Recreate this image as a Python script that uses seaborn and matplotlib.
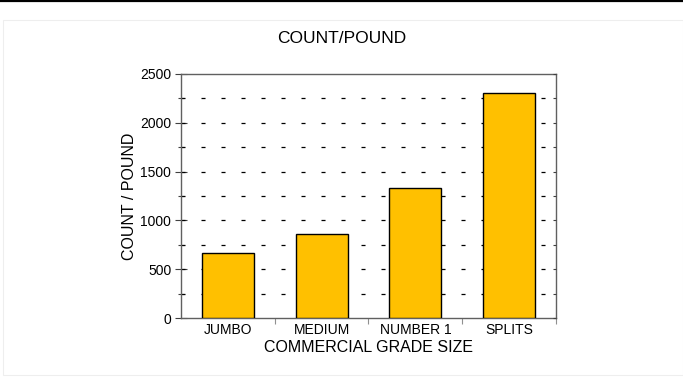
import numpy as np
import pandas as pd
import seaborn as sns
import matplotlib.pyplot as plt
from matplotlib.lines import Line2D
from matplotlib.patches import Rectangle
from matplotlib.ticker import MultipleLocator

# data
grades = ["JUMBO", "MEDIUM", "NUMBER 1", "SPLITS"]
count_per_pound = [665, 858, 1330, 2305]

df = pd.DataFrame({"Grade": grades, "Count": count_per_pound})

sns.set_style("ticks")
plt.rcParams['font.family'] = ['Liberation Sans', 'DejaVu Sans']
plt.rcParams['lines.scale_dashes'] = False
plt.rcParams['text.color'] = 'black'
plt.rcParams['axes.labelcolor'] = 'black'
plt.rcParams['xtick.labelcolor'] = 'black'
plt.rcParams['ytick.labelcolor'] = 'black'

fig = plt.figure(figsize=(6.83, 3.88), dpi=100)
ax = fig.add_axes([0.265, 0.1804, 0.549, 0.629])

sns.barplot(data=df, x="Grade", y="Count", color="#FFC000", width=0.555,
            edgecolor="black", linewidth=1.0, saturation=1, ax=ax, zorder=3)

ax.set_ylim(0, 2500)
ax.set_xlim(-0.5, 3.5)
ax.yaxis.set_major_locator(MultipleLocator(500))
ax.yaxis.set_minor_locator(MultipleLocator(250))

# dashed horizontal grid at every 250
for yv in np.arange(250, 2500, 250):
    ax.axhline(yv, color="black", linewidth=0.9, linestyle=(0, (2.9, 11.5)), zorder=1)

for s in ax.spines.values():
    s.set_color("#606060")
    s.set_linewidth(1.0)
    s.set_visible(True)

ax.tick_params(axis="y", which="major", direction="inout", length=8, width=0.8,
               color="#404040", labelsize=10, right=False, pad=3)
ax.tick_params(axis="y", which="minor", direction="inout", length=4, width=0.8,
               color="#404040", right=False)
ax.tick_params(axis="x", which="major", length=0, labelsize=10, pad=3.5)
# category boundary ticks on x
ax.set_xticks([0.5, 1.5, 2.5, 3.5], minor=True)
ax.tick_params(axis="x", which="minor", direction="out", length=4, width=0.8, color="#909090")

# short inward ticks on the right spine
ax2 = ax.twinx()
ax2.set_ylim(ax.get_ylim())
ax2.yaxis.set_major_locator(MultipleLocator(250))
ax2.tick_params(axis="y", direction="in", length=2, width=0.8, color="#404040", labelright=False)
for s in ax2.spines.values():
    s.set_visible(False)

ax.set_xlabel("COMMERCIAL GRADE SIZE", fontsize=11.5, labelpad=2)
ax.set_ylabel("COUNT / POUND", fontsize=11.5, labelpad=2)
fig.text(0.5, 0.9, "COUNT/POUND", ha="center", va="center", fontsize=12.5)

# black rule on top and faint frame
fig.add_artist(Line2D([0, 1], [0.997, 0.997], color="black", linewidth=1.6))
fig.add_artist(Rectangle((0.005, 0.033), 0.995, 0.915, fill=False,
                         edgecolor="#eeeeee", linewidth=0.8))

plt.savefig("out.png", dpi=100)
plt.close()
